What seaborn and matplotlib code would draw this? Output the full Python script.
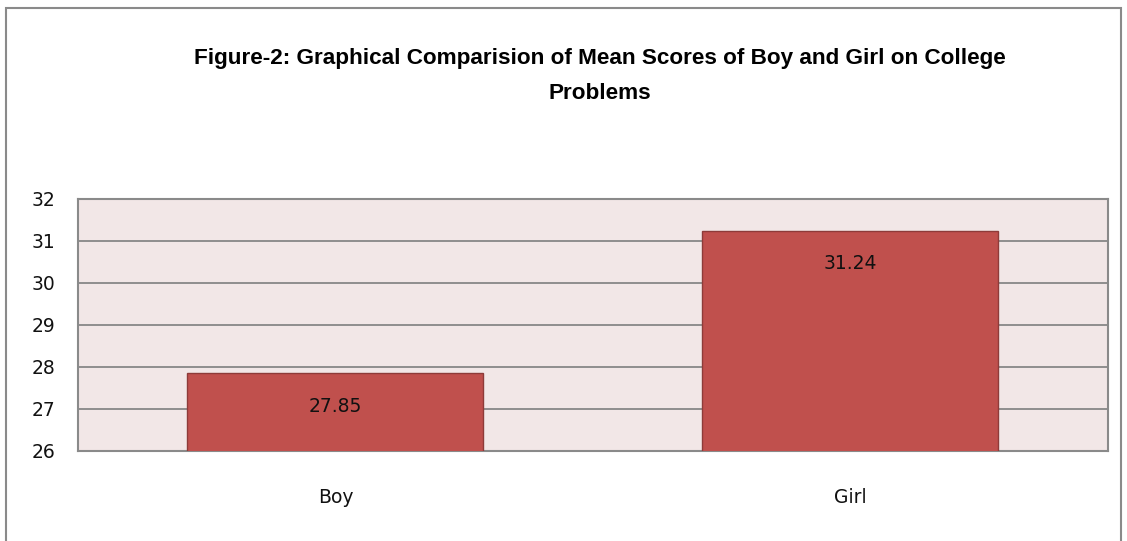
import matplotlib
matplotlib.use("Agg")
import matplotlib.pyplot as plt
import seaborn as sns
import pandas as pd
from matplotlib.patches import Rectangle

groups = ["Boy", "Girl"]
mean_scores = [27.85, 31.24]
y_ticks = [26, 27, 28, 29, 30, 31, 32]

df = pd.DataFrame({"group": groups, "score": mean_scores})

sns.set_style("white")
plt.rcParams["font.family"] = ["DejaVu Sans"]

fig = plt.figure(figsize=(11.27, 5.41), dpi=100)
ax = fig.add_axes([0.0692, 0.1664, 0.9138, 0.4658])

sns.barplot(data=df, x="group", y="score", color="#C0504D", width=0.575,
            edgecolor="#8E3B39", linewidth=1.0, saturation=1, ax=ax, zorder=3)

ax.set_facecolor("#F2E7E7")
ax.set_ylim(26, 32)
ax.set_yticks(y_ticks)
ax.yaxis.grid(True, color="#878787", linewidth=1.3, zorder=0)
ax.set_axisbelow(True)
for s in ax.spines.values():
    s.set_color("#8A8A8A")
    s.set_linewidth(1.5)
ax.tick_params(axis="y", length=0, pad=16, labelsize=13.5, labelcolor="#111111")
ax.tick_params(axis="x", length=0, pad=27, labelsize=13.5, labelcolor="#111111")
ax.set_xlabel("")
ax.set_ylabel("")

for p, v in zip(ax.patches, mean_scores):
    ax.text(p.get_x() + p.get_width() / 2, v - 0.78, f"{v:.2f}",
            ha="center", va="center", fontsize=13.5, color="#111111", zorder=5)

fig.text(0.532, 0.8595, "Figure-2: Graphical Comparision of Mean Scores of Boy and Girl on College\nProblems",
         ha="center", va="center", fontsize=16.2, fontweight="bold", linespacing=1.9,
         family=["Liberation Sans", "DejaVu Sans"], color="#000000")

fig.patches.append(Rectangle((6 / 1127, -0.05), (1121 - 6) / 1127, 1.05 - 8 / 541,
                             transform=fig.transFigure, fill=False,
                             edgecolor="#8A8A8A", linewidth=1.5))

fig.savefig("out.png", dpi=100)
